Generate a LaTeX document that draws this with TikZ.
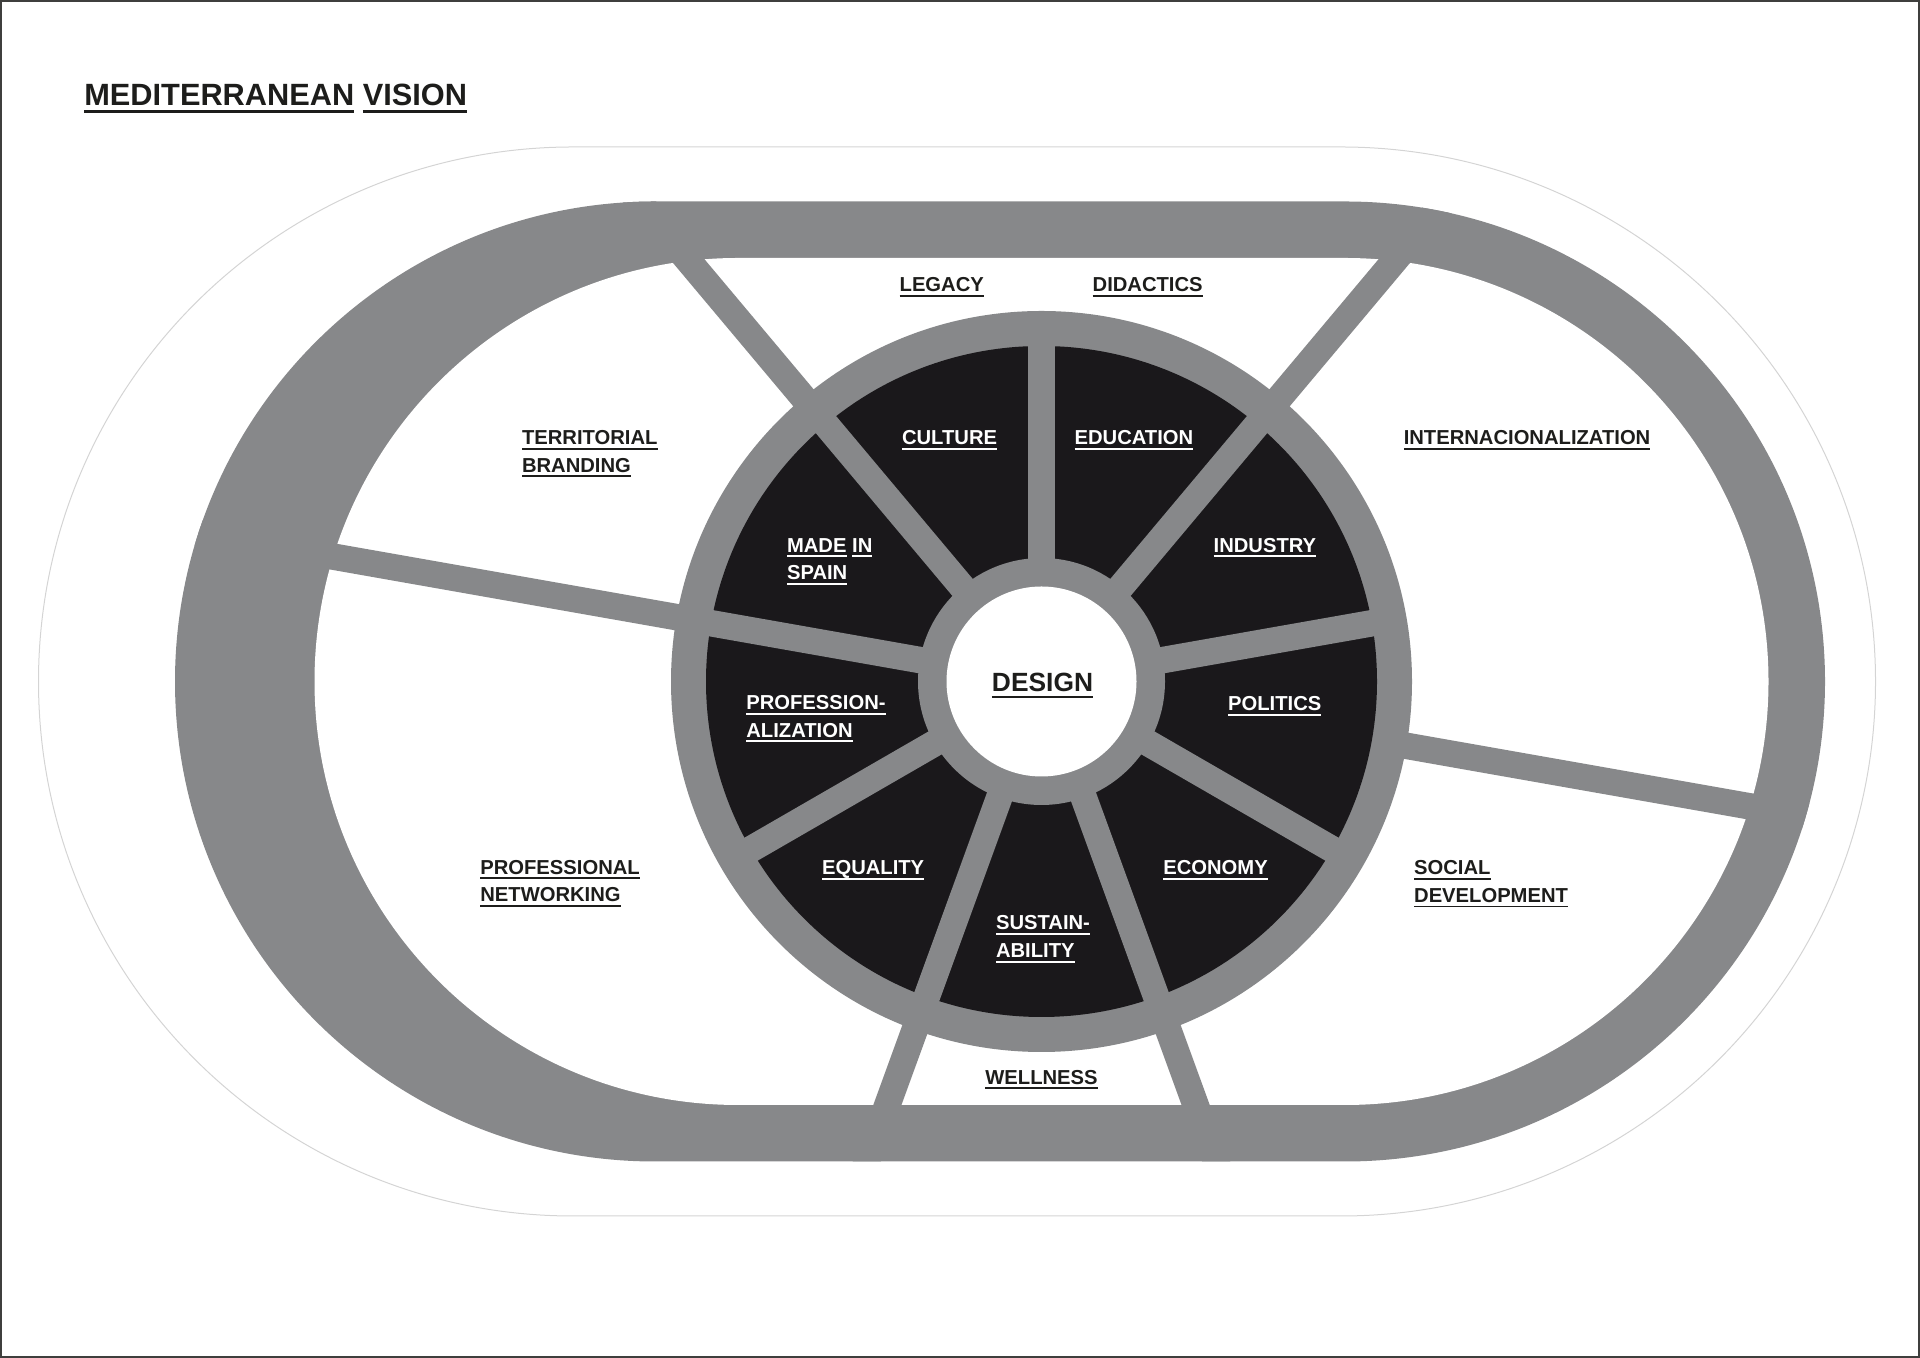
\documentclass[tikz,border=0pt]{standalone}
\usepackage{fontspec}
\setmainfont{Liberation Sans}
\definecolor{ringgray}{RGB}{135,136,138}
\definecolor{sectordark}{RGB}{26,24,27}
\definecolor{inkdark}{RGB}{29,29,27}
\definecolor{paleline}{RGB}{212,212,212}
\newcommand{\uword}[1]{\setbox0=\hbox{#1}\rlap{\rule[-0.25em]{\wd0}{0.095em}}\box0\relax}

\begin{document}
\begin{tikzpicture}[x=0.02cm,y=0.02cm]
\tikzstyle{every node}+=[inner sep=0pt]
\tikzstyle{lbl}=[anchor=base west, text=inkdark, font=\bfseries\fontsize{11.5pt}{14pt}\selectfont]
\tikzstyle{lblw}=[lbl, text=white]
\tikzstyle{spoke}=[ringgray, line width=0.53cm]
\useasboundingbox (0,0) rectangle (1920,1358);
\draw [inkdark!85, line width=0.04cm] (1,1) rectangle (1919,1357);
% pale outline
\draw [paleline, line width=0.02cm] (573,1211) -- (1341,1211) arc [start angle=90, end angle=-90, radius=534.5] -- (573,142) arc [start angle=270, end angle=90, radius=534.5] -- cycle;
% track
\fill [ringgray] (655,1156.5) -- (1345,1156.5) arc [start angle=90, end angle=-90, radius=480] -- (655,196.5) arc [start angle=270, end angle=90, radius=480] -- cycle;
\fill [white] (738,1100) -- (1345,1100) arc [start angle=90, end angle=-90, radius=423.5] -- (738,253) arc [start angle=270, end angle=90, radius=423.5] -- cycle;
\coordinate (hub) at (1041.5,676.5);
\begin{scope}
\clip (655,1156.5) -- (1345,1156.5) arc [start angle=90, end angle=-90, radius=480] -- (655,196.5) arc [start angle=270, end angle=90, radius=480] -- cycle;
\foreach \a in {50,130,170,-10,-70,-110}
  \draw [spoke] (hub) -- ++(\a:900);
\end{scope}
% wheel
\fill [ringgray] (hub) circle (370.5);
\fill [sectordark] (hub) circle (335.5);
\foreach \a in {90,50,...,-230}
  \draw [spoke] (hub) -- ++(\a:345);
\fill [ringgray] (hub) circle (123.5);
\fill [white] (hub) circle (95);
% labels
\node [lbl, font=\bfseries\fontsize{17.5pt}{20pt}\selectfont] (title) at (84,1252.3) {\uword{MEDITERRANEAN} \uword{VISION}};
\node [anchor=base, text=inkdark, font=\bfseries\fontsize{15pt}{18pt}\selectfont] (design) at (1042.5,666.3) {\uword{DESIGN}};
\node [lbl] (legacy) at (899.3,1066.3) {\uword{LEGACY}};
\node [lbl] (didactics) at (1092.3,1066.3) {\uword{DIDACTICS}};
\node [lbl] (terr1) at (521.7,913) {\uword{TERRITORIAL}};
\node [lbl] (terr2) at (521.7,885.7) {\uword{BRANDING}};
\node [lbl] (intern) at (1403.4,913) {\uword{INTERNACIONALIZATION}};
\node [lbl] (prof1) at (480,483.7) {\uword{PROFESSIONAL}};
\node [lbl] (prof2) at (480,456.3) {\uword{NETWORKING}};
\node [lbl] (social1) at (1413.8,483.2) {\uword{SOCIAL}};
\node [lbl] (social2) at (1413.8,455.6) {\uword{DEVELOPMENT}};
\node [lbl] (wellness) at (985,273.7) {\uword{WELLNESS}};
\node [lblw] (culture) at (901.7,913) {\uword{CULTURE}};
\node [lblw] (education) at (1074.3,913) {\uword{EDUCATION}};
\node [lblw] (made1) at (786.7,805.7) {\uword{MADE} \uword{IN}};
\node [lblw] (made2) at (786.7,778) {\uword{SPAIN}};
\node [lblw] (industry) at (1213.3,805.8) {\uword{INDUSTRY}};
\node [lblw] (profz1) at (746,648.5) {\uword{PROFESSION-}};
\node [lblw] (profz2) at (746,620.7) {\uword{ALIZATION}};
\node [lblw] (politics) at (1227.8,647.4) {\uword{POLITICS}};
\node [lblw] (equality) at (821.7,483) {\uword{EQUALITY}};
\node [lblw] (economy) at (1163,483.2) {\uword{ECONOMY}};
\node [lblw] (sust1) at (995.7,428) {\uword{SUSTAIN-}};
\node [lblw] (sust2) at (995.7,400.3) {\uword{ABILITY}};
\end{tikzpicture}
\end{document}
